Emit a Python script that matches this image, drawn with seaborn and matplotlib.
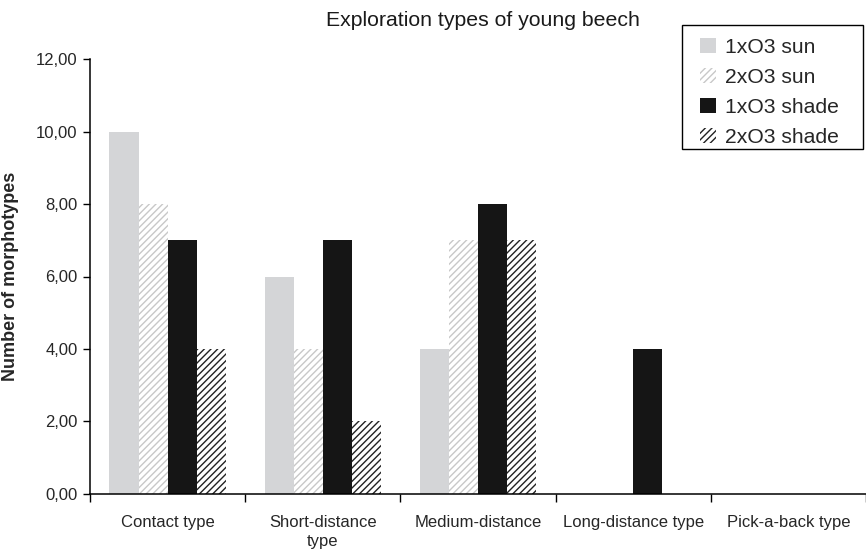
import numpy as np
import pandas as pd
import matplotlib
matplotlib.use("Agg")
import matplotlib.pyplot as plt
import matplotlib.patches as mpatches
from matplotlib.ticker import FixedLocator, FuncFormatter
import seaborn as sns

# data
categories = ["Contact type", "Short-distance\ntype", "Medium-distance",
              "Long-distance type", "Pick-a-back type"]
series = ["1xO3 sun", "2xO3 sun", "1xO3 shade", "2xO3 shade"]
sun_1x = [10, 6, 4, 0, 0]
sun_2x = [8, 4, 7, 0, 0]
shade_1x = [7, 7, 8, 4, 0]
shade_2x = [4, 2, 7, 0, 0]

values = [sun_1x, sun_2x, shade_1x, shade_2x]
df = pd.DataFrame({
    "type": np.tile(categories, len(series)),
    "series": np.repeat(series, len(categories)),
    "n": np.concatenate(values),
})

# look of each series: (face, hatch colour, hatch)
styles = {
    "1xO3 sun": ("#d4d5d7", "#d4d5d7", ""),
    "2xO3 sun": ("white", "#c8c8c8", "/////"),
    "1xO3 shade": ("#151515", "#151515", ""),
    "2xO3 shade": ("white", "#222222", "/////"),
}

sns.set_theme(style="ticks")
plt.rcParams["font.family"] = ["Liberation Sans", "DejaVu Sans"]
plt.rcParams["hatch.linewidth"] = 1.0

fig = plt.figure(figsize=(8.66, 5.53), dpi=100)
ax = fig.add_axes([0.104, 0.1067, 0.896, 0.7866])

sns.barplot(data=df, x="type", y="n", hue="series", order=categories,
            hue_order=series, width=0.75, errorbar=None, legend=False, ax=ax)

for cont, s in zip(ax.containers, series):
    face, hcol, hatch = styles[s]
    for p in cont.patches:
        p.set_facecolor(face)
        p.set_edgecolor(hcol)
        p.set_hatch(hatch)
        p.set_linewidth(0)

ax.set_xlim(-0.5, len(categories) - 0.5)
ax.set_ylim(0, 12)
ax.set_yticks(np.arange(0, 13, 2))
ax.yaxis.set_major_formatter(FuncFormatter(lambda v, _: f"{v:.2f}".replace(".", ",")))
ax.tick_params(axis="y", labelsize=12, length=5, width=1, color="black", pad=4)

# category labels without marks, marks at the group boundaries
ax.tick_params(axis="x", which="major", length=0, labelsize=12, pad=15)
for lab in ax.get_xticklabels():
    lab.set_linespacing(1.35)
ax.xaxis.set_minor_locator(FixedLocator(np.arange(-0.5, len(categories), 1)))
ax.tick_params(axis="x", which="minor", length=6, width=1, color="black")

for side in ["top", "right"]:
    ax.spines[side].set_visible(False)
for side in ["left", "bottom"]:
    ax.spines[side].set_color("black")
    ax.spines[side].set_linewidth(1.1)

ax.set_xlabel("")
ax.set_ylabel("Number of morphotypes", fontsize=13, fontweight="bold", labelpad=12)
fig.text(0.558, 0.963, "Exploration types of young beech", ha="center", va="center",
         fontsize=15.3, color="#1a1a1a")

handles = []
for s in series:
    face, hcol, hatch = styles[s]
    handles.append(mpatches.Patch(facecolor=face, edgecolor=hcol, hatch=hatch,
                                  linewidth=0, label=s))
fig.legend(handles=handles, loc="upper left", bbox_to_anchor=(0.8083, 0.9313),
           fontsize=15.2, frameon=False, handlelength=0.75, handleheight=0.75,
           handletextpad=0.42, labelspacing=0.51, borderpad=0, borderaxespad=0)

# legend box drawn on its own, wider than the entries
fig.patches.append(mpatches.Rectangle((0.7875, 0.7306), 0.209, 0.2242,
                                      transform=fig.transFigure, fill=False,
                                      edgecolor="black", linewidth=1.0))

fig.savefig("out.png", dpi=100)
